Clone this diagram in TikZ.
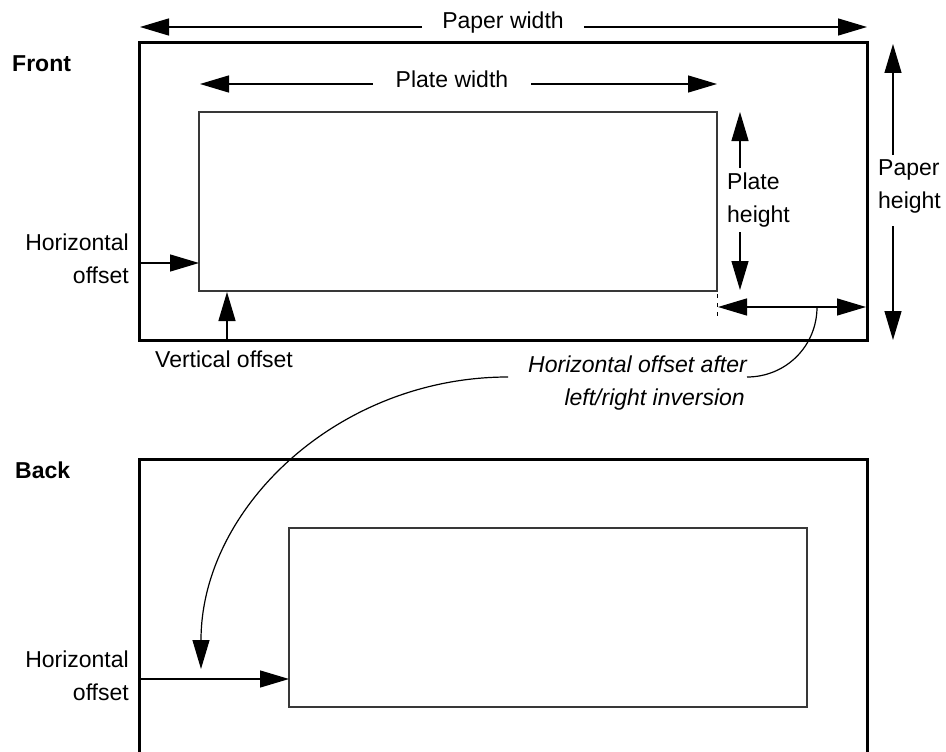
\documentclass[tikz,border=0pt]{standalone}
\usepackage{fontspec}
\setmainfont{Liberation Sans}
\usetikzlibrary{arrows.meta,calc}
\begin{document}
\begin{tikzpicture}[x=1pt,y=-1pt,
  tri/.style={-{Triangle[length=29pt,width=17pt]}},
  dtri/.style={{Triangle[length=29pt,width=17pt]}-{Triangle[length=29pt,width=17pt]}},
  dim/.style={line width=1.3pt},
  lead/.style={line width=1.2pt},
  paper/.style={line width=3pt},
  plate/.style={line width=1.5pt, draw=black!78},
  lbl/.style={font=\fontsize{23}{33}\selectfont, inner sep=0pt},
  head/.style={font=\fontsize{23}{33}\selectfont\bfseries, inner sep=0pt},
  note/.style={font=\fontsize{23}{33}\selectfont\itshape, inner sep=0pt},
]
\useasboundingbox (0,0) rectangle (946,752);

% ---------- Front ----------
\coordinate (fo1) at (139,43);
\coordinate (fo2) at (867,340);
\coordinate (fi1) at (199,112);
\coordinate (fi2) at (717,291);
\draw[paper] (fo1) rectangle (fo2);
\draw[plate] (fi1) rectangle (fi2);
\node[head, anchor=base west] (front) at (12,72) {Front};

% Paper width
\coordinate (pwL) at (140,27);
\coordinate (pwR) at (867,27);
\node[lbl, anchor=base, inner xsep=20pt] (pw) at (503,29) {Paper width};
\draw[dim,tri] (pw.west |- pwL) -- (pwL);
\draw[dim,tri] (pw.east |- pwR) -- (pwR);

% Plate width
\coordinate (plL) at (200,84);
\coordinate (plR) at (717,84);
\node[lbl, anchor=base, inner xsep=23pt] (plw) at (452,88) {Plate width};
\draw[dim,tri] (plw.west |- plL) -- (plL);
\draw[dim,tri] (plw.east |- plR) -- (plR);

% Plate height
\node[lbl, anchor=base west] (ph1) at (727,189) {Plate};
\node[lbl, anchor=base west] (ph2) at (727,222) {height};
\coordinate (phT) at (740,112);
\coordinate (phB) at (740,290);
\draw[dim,tri] (740,168) -- (phT);
\draw[dim,tri] (740,232) -- (phB);

% Paper height
\node[lbl, anchor=base west] (pah1) at (878,175) {Paper};
\node[lbl, anchor=base west] (pah2) at (878,208) {height};
\coordinate (pahT) at (893,44);
\coordinate (pahB) at (893,340);
\draw[dim,tri] (893,155) -- (pahT);
\draw[dim,tri] (893,226) -- (pahB);

% Horizontal offset (front)
\node[lbl, anchor=base east] (fho1) at (129,250) {Horizontal};
\node[lbl, anchor=base east] (fho2) at (129,283) {offset};
\coordinate (fhoS) at (139,263);
\draw[dim,tri] (fhoS) -- (fi1 |- fhoS);

% Vertical offset
\node[lbl, anchor=base west] (vo) at (155,367) {Vertical offset};
\coordinate (voS) at (227,340);
\draw[dim,tri] (voS) -- (227,292);

% Horizontal offset after inversion
\coordinate (hiL) at (718,307);
\coordinate (hiR) at (866,307);
\draw[line width=1pt, dash pattern=on 4pt off 5pt] (717,294) -- (717,319);
\draw[dim,dtri] (hiL) -- (hiR);
\node[note, anchor=base east] (hoa1) at (747,372) {Horizontal offset after};
\node[note, anchor=base east] (hoa2) at (745,405) {left/right inversion};
\coordinate (hiM) at (817,307);
\coordinate (hoaR) at (747,377);
\coordinate (hoaL) at (508,377);
\draw[lead] (hiM) .. controls (817,346) and (786,377) .. (hoaR);

% ---------- Back ----------
\coordinate (bi1) at (289,528);
\coordinate (bi2) at (807,707);
\draw[paper] (139,760) -- (139,459) -- (867,459) -- (867,760);
\draw[plate] (bi1) rectangle (bi2);
\node[head, anchor=base west] (back) at (15,478) {Back};

\node[lbl, anchor=base east] (bho1) at (129,667) {Horizontal};
\node[lbl, anchor=base east] (bho2) at (129,700) {offset};
\coordinate (bhoS) at (139,679);
\draw[dim,tri] (bhoS) -- (bi1 |- bhoS);

% big curved leader
\coordinate (bigT) at (201,669);
\draw[lead,tri] (hoaL) .. controls (338,377) and (201,508) .. (bigT);
\end{tikzpicture}
\end{document}
